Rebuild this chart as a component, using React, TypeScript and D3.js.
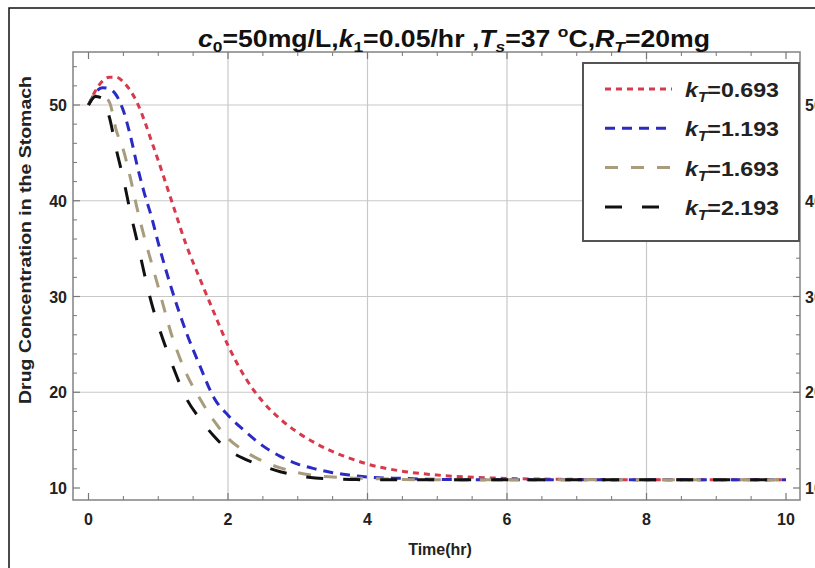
import React from "react";
import * as d3 from "d3";

const times = [0, 0.1, 0.2, 0.3, 0.4, 0.5, 0.6, 0.7, 0.8, 0.9, 1.0, 1.2, 1.4, 1.6, 1.8, 2.0, 2.25, 2.5, 2.75, 3.0, 3.25, 3.5, 3.75, 4, 4.5, 5, 6, 7, 8, 9, 10];
const kT0693 = [50, 51.5, 52.5, 52.9, 52.9, 52.4, 51.5, 50.2, 48.4, 46.3, 44.2, 39.8, 35.4, 31.8, 28.3, 24.9, 21.5, 19.0, 17.2, 15.8, 14.7, 13.8, 13.1, 12.5, 11.75, 11.35, 11.0, 10.9, 10.85, 10.85, 10.85];
const kT1193 = [50, 51.3, 51.8, 51.7, 51.0, 49.4, 46.8, 43.6, 40.8, 38.4, 35.6, 30.6, 26.3, 22.7, 19.4, 17.6, 15.9, 14.4, 13.3, 12.5, 12.0, 11.6, 11.35, 11.15, 11.0, 10.9, 10.85, 10.85, 10.85, 10.85, 10.85];
const kT1693 = [50, 51.0, 51.0, 50.3, 47.3, 45.3, 42.4, 39.1, 36.2, 33.6, 31.0, 25.8, 22.0, 19.3, 17.0, 15.2, 13.8, 12.8, 12.1, 11.6, 11.3, 11.15, 11.05, 11.0, 10.9, 10.85, 10.85, 10.85, 10.85, 10.85, 10.85];
const kT2193 = [50, 50.9, 50.7, 48.7, 45.3, 42.3, 38.8, 35.7, 32.4, 29.4, 27.0, 22.9, 19.4, 17.2, 15.4, 14.0, 13.0, 12.3, 11.7, 11.3, 11.05, 10.95, 10.9, 10.85, 10.85, 10.85, 10.85, 10.85, 10.85, 10.85, 10.85];

const seriesNames = ["0.693", "1.193", "1.693", "2.193"];
const seriesValues = [kT0693, kT1193, kT1693, kT2193];
const seriesColors = ["#d63a4c", "#2b2bc4", "#a89c7c", "#111111"];
const seriesDashes = ["6 5", "10 7", "13 13", "17 20"];

const xTicks = [0, 2, 4, 6, 8, 10];
const yTicks = [10, 20, 30, 40, 50];
const xGrid = [2, 4, 6, 8];
const yGrid = [20, 30, 40, 50];

const FONT = "'Liberation Sans', Arial, sans-serif";

export default function App() {
  const W = 815, H = 568;
  const fx0 = 73, fx1 = 800, fy0 = 52, fy1 = 500;
  const x = d3.scaleLinear().domain([0, 10]).range([88.5, 786]);
  const y = d3.scaleLinear().domain([10, 50]).range([488, 105]);
  const yMin = y.invert(fy1), yMax = y.invert(fy0);
  const xMinorTicks = d3.range(0, 10.01, 0.5).filter(v => !xTicks.includes(v));
  const yMinorTicks = d3.range(2 * Math.ceil(yMin / 2), yMax, 2).filter(v => !yTicks.includes(v));

  const line = d3.line<number>()
    .x((_, i) => x(times[i]))
    .y(d => y(d))
    .curve(d3.curveMonotoneX);

  return (
    <svg width={W} height={H} style={{ position: "fixed", left: 0, top: 0, background: "#fff" }}>
      <rect x={0} y={0} width={W} height={H} fill="#fff" />
      <rect x={9} y={8} width={900} height={700} fill="none" stroke="#111" strokeWidth={1.5} />
      {/* grid */}
      {xGrid.map(v => (
        <line key={"gx" + v} x1={x(v)} x2={x(v)} y1={fy0} y2={fy1} stroke="#c8c8c8" strokeWidth={1.2} />
      ))}
      {yGrid.map(v => (
        <line key={"gy" + v} x1={fx0} x2={fx1} y1={y(v)} y2={y(v)} stroke="#c8c8c8" strokeWidth={1.2} />
      ))}
      {/* frame */}
      <rect x={fx0} y={fy0} width={fx1 - fx0} height={fy1 - fy0} fill="none" stroke="#8a8a8a" strokeWidth={1.6} />
      {/* ticks */}
      {xTicks.map(v => (
        <g key={"xt" + v}>
          <line x1={x(v)} x2={x(v)} y1={fy1} y2={fy1 - 7} stroke="#777" strokeWidth={1.2} />
          <line x1={x(v)} x2={x(v)} y1={fy0} y2={fy0 + 7} stroke="#777" strokeWidth={1.2} />
          <text x={x(v)} y={fy1 + 25} textAnchor="middle" fontFamily={FONT} fontWeight="bold" fontSize={16} fill="#222">{v}</text>
        </g>
      ))}
      {xMinorTicks.map(v => (
        <g key={"xm" + v}>
          <line x1={x(v)} x2={x(v)} y1={fy1} y2={fy1 - 4} stroke="#777" strokeWidth={1} />
          <line x1={x(v)} x2={x(v)} y1={fy0} y2={fy0 + 4} stroke="#777" strokeWidth={1} />
        </g>
      ))}
      {yTicks.map(v => (
        <g key={"yt" + v}>
          <line x1={fx0} x2={fx0 + 7} y1={y(v)} y2={y(v)} stroke="#777" strokeWidth={1.2} />
          <line x1={fx1} x2={fx1 - 7} y1={y(v)} y2={y(v)} stroke="#777" strokeWidth={1.2} />
          <text x={fx0 - 6} y={y(v) + 6} textAnchor="end" fontFamily={FONT} fontWeight="bold" fontSize={16} fill="#222">{v}</text>
          <text x={fx1 + 5} y={y(v) + 6} textAnchor="start" fontFamily={FONT} fontWeight="bold" fontSize={16} fill="#222">{v}</text>
        </g>
      ))}
      {yMinorTicks.map(v => (
        <g key={"ym" + v}>
          <line x1={fx0} x2={fx0 + 4} y1={y(v)} y2={y(v)} stroke="#777" strokeWidth={1} />
          <line x1={fx1} x2={fx1 - 4} y1={y(v)} y2={y(v)} stroke="#777" strokeWidth={1} />
        </g>
      ))}
      {/* curves */}
      {seriesValues.map((vals, i) => (
        <path key={"s" + i} d={line(vals) || ""} fill="none" stroke={seriesColors[i]} strokeWidth={3} strokeDasharray={seriesDashes[i]} />
      ))}
      {/* axis labels */}
      <text x={440} y={555} textAnchor="middle" fontFamily={FONT} fontWeight="bold" fontSize={16} fill="#222">Time(hr)</text>
      <text transform={`translate(31, 240) rotate(-90)`} textAnchor="middle" fontFamily={FONT} fontWeight="bold" fontSize={17} fill="#222" textLength={328} lengthAdjust="spacingAndGlyphs">Drug Concentration in the  Stomach</text>
      {/* title */}
      <text x={454} y={47} textAnchor="middle" fontFamily={FONT} fontWeight="bold" fontSize={23} fill="#111" textLength={512} lengthAdjust="spacingAndGlyphs">
        <tspan fontStyle="italic">c</tspan>
        <tspan fontSize={15} dy={5}>0</tspan>
        <tspan dy={-5}>=50mg/L,</tspan>
        <tspan fontStyle="italic">k</tspan>
        <tspan fontSize={15} dy={5}>1</tspan>
        <tspan dy={-5}>=0.05/hr ,</tspan>
        <tspan fontStyle="italic">T</tspan>
        <tspan fontSize={15} dy={5} fontStyle="italic">s</tspan>
        <tspan dy={-5}>=37 </tspan>
        <tspan fontSize={15} dy={-10}>o</tspan>
        <tspan dy={10}>C,</tspan>
        <tspan fontStyle="italic">R</tspan>
        <tspan fontSize={15} dy={5} fontStyle="italic">T</tspan>
        <tspan dy={-5}>=20mg</tspan>
      </text>
      {/* legend */}
      <rect x={583} y={63} width={216} height={178} fill="#fff" stroke="#555" strokeWidth={2} />
      {seriesNames.map((n, i) => {
        const ly = 89 + i * 39.3;
        return (
          <g key={"lg" + i}>
            <line x1={605} x2={672} y1={ly} y2={ly} stroke={seriesColors[i]} strokeWidth={3} strokeDasharray={seriesDashes[i]} />
            <text x={685} y={ly + 8} fontFamily={FONT} fontWeight="bold" fontSize={21} fill="#222" textLength={94} lengthAdjust="spacingAndGlyphs">
              <tspan fontStyle="italic">k</tspan>
              <tspan fontSize={14} dy={5} fontStyle="italic">T</tspan>
              <tspan dy={-5}>={n}</tspan>
            </text>
          </g>
        );
      })}
    </svg>
  );
}
